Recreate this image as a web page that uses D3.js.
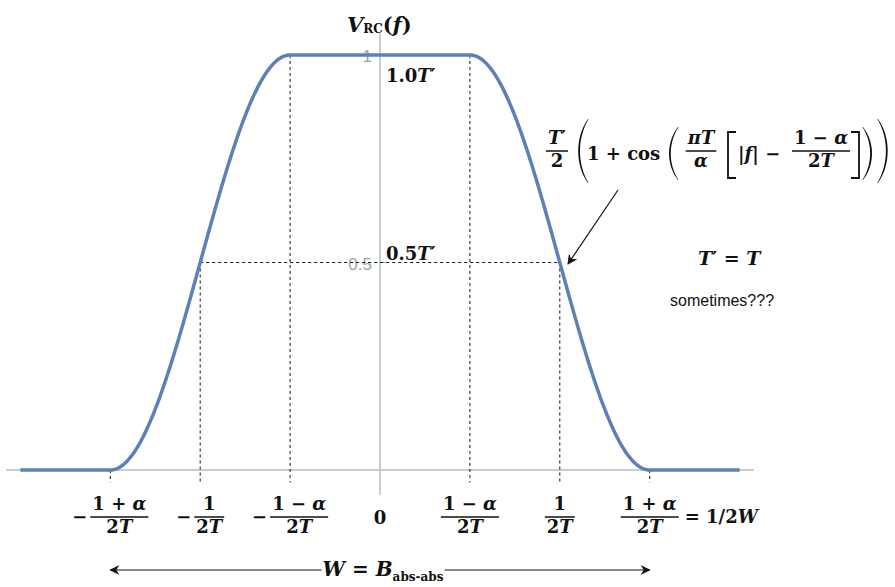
<!DOCTYPE html>
<html>
<head>
<meta charset="utf-8">
<script src="https://cdn.jsdelivr.net/npm/d3@7"></script>
<style>
  body { margin: 0; background: #fff; }
  .m { font-family: "DejaVu Serif", "Liberation Serif", serif; font-weight: bold; fill: #111; white-space: pre; }
</style>
</head>
<body>
<script>
// raised cosine parameters (1/(2T) = 1 unit)
const alpha = 0.5, T = 0.5;
const curveSpan = [-2, 2];
const yTicks = [1, 0.5];
const yTickLabels = ["1", "0.5"];
const levelLabels = ["1.0T′", "0.5T′"];
const xTickVals = [-1.5, -1, -0.5, 0, 0.5, 1, 1.5];
const xTickSign = ["−", "−", "−", "", "", "", ""];
const xTickNum = ["1 + α", "1", "1 − α", "0", "1 − α", "1", "1 + α"];
const xTickDen = ["2T", "2T", "2T", "", "2T", "2T", "2T"];
const guideX = [-1.5, -1, -0.5, 0.5, 1, 1.5];

const W = 895, H = 587;
const svg = d3.select("body").append("svg").attr("width", W).attr("height", H);

const x = d3.scaleLinear().domain([-2.08, 2.08]).range([6, 754]);
const y = d3.scaleLinear().domain([0, 1]).range([470, 55]);

function Vrc(f) {
  const a = Math.abs(f), lo = (1 - alpha) / (2 * T), hi = (1 + alpha) / (2 * T);
  if (a <= lo) return 1;
  if (a > hi) return 0;
  return 0.5 * (1 + Math.cos(Math.PI * T / alpha * (a - lo)));
}

const ital = new Set("TfαπWVB".split(""));
function mtext(g, px, py, str, size, anchor) {
  const t = g.append("text").attr("class", "m").attr("x", px).attr("y", py)
    .attr("font-size", size).attr("text-anchor", anchor || "start");
  const runs = [];
  for (const ch of str) {
    const it = ital.has(ch);
    if (runs.length && runs[runs.length - 1].it === it) runs[runs.length - 1].s += ch;
    else runs.push({ s: ch, it: it });
  }
  runs.forEach(r => t.append("tspan").attr("font-style", r.it ? "italic" : "normal").text(r.s));
  return t;
}
function frac(g, cx, barY, num, den, size) {
  const n = mtext(g, cx, barY - 7, num, size, "middle");
  const d = mtext(g, cx, barY + size * 0.9, den, size, "middle");
  const w = Math.max(n.node().getComputedTextLength(), d.node().getComputedTextLength()) + 4;
  g.append("line").attr("x1", cx - w / 2).attr("x2", cx + w / 2)
    .attr("y1", barY).attr("y2", barY).attr("stroke", "#111").attr("stroke-width", 1.5);
  return w;
}
function paren(g, x0, x1, y0, y1, right) {
  const h = y1 - y0, t = 2.2;
  const a = right ? x0 : x1, b = right ? x1 : x0, s = right ? -1 : 1;
  g.append("path").attr("fill", "#111")
    .attr("d", `M${a},${y0} C${b},${y0 + h * 0.28} ${b},${y1 - h * 0.28} ${a},${y1}
      L${a + s * 0.6},${y1} C${b + s * t},${y1 - h * 0.3} ${b + s * t},${y0 + h * 0.3} ${a + s * 0.6},${y0} Z`);
}
function bracket(g, x0, x1, y0, y1, right) {
  const a = right ? x0 : x1, b = right ? x1 : x0;
  g.append("path").attr("fill", "none").attr("stroke", "#111").attr("stroke-width", 1.8)
    .attr("d", `M${a},${y0} H${b} V${y1} H${a}`);
}

// axes
svg.append("line").attr("x1", x(-2.08)).attr("x2", x(2.08)).attr("y1", y(0)).attr("y2", y(0))
  .attr("stroke", "#b4bebe").attr("stroke-width", 1.5);
svg.append("line").attr("x1", x(0)).attr("x2", x(0)).attr("y1", y(1.053)).attr("y2", y(-0.06))
  .attr("stroke", "#b4bebe").attr("stroke-width", 1.5);
yTicks.forEach((v, i) => {
  svg.append("line").attr("x1", x(0)).attr("x2", x(0) + 8).attr("y1", y(v)).attr("y2", y(v))
    .attr("stroke", "#b4bebe").attr("stroke-width", 1.2);
  svg.append("text").attr("x", x(0) - 8).attr("y", y(v) + 7).attr("text-anchor", "end")
    .attr("font-family", "Liberation Sans, sans-serif").attr("font-size", 17).attr("fill", "#97a3a3")
    .text(yTickLabels[i]);
});

// guides
const dash = { stroke: "#111", "stroke-width": 1, "stroke-dasharray": "3,3" };
guideX.forEach(f => {
  const l = svg.append("line").attr("x1", x(f)).attr("x2", x(f)).attr("y1", y(Vrc(f))).attr("y2", y(-0.03));
  Object.entries(dash).forEach(([k, v]) => l.attr(k, v));
});
const hl = svg.append("line").attr("x1", x(-1)).attr("x2", x(1)).attr("y1", y(0.5)).attr("y2", y(0.5));
Object.entries(dash).forEach(([k, v]) => hl.attr(k, v));

// curve
const pts = d3.range(curveSpan[0], curveSpan[1] + 1e-9, 0.01).map(f => [f, Vrc(f)]);
svg.append("path").datum(pts)
  .attr("d", d3.line().x(d => x(d[0])).y(d => y(d[1])))
  .attr("fill", "none").attr("stroke", "#5d80b6").attr("stroke-width", 3.5);

// level labels
mtext(svg, 386, 82, levelLabels[0], 18);
mtext(svg, 386, 260, levelLabels[1], 18);

// y label V_RC(f)
const yl = svg.append("text").attr("class", "m").attr("x", 347).attr("y", 32).attr("font-size", 21);
yl.append("tspan").attr("font-style", "italic").text("V");
yl.append("tspan").attr("font-size", 12).attr("dy", 1).text("RC");
yl.append("tspan").attr("dy", -1).text("(");
yl.append("tspan").attr("font-style", "italic").text("f");
yl.append("tspan").text(")");

// x tick labels
const barY = 517;
xTickVals.forEach((v, i) => {
  const cx = x(v);
  if (xTickDen[i] === "") { mtext(svg, cx, 524, xTickNum[i], 18, "middle"); return; }
  const g = svg.append("g");
  const w = frac(g, 0, barY, xTickNum[i], xTickDen[i], 18);
  let off = 0;
  if (xTickSign[i]) {
    const m = mtext(g, 0, barY + 6, xTickSign[i], 18, "start");
    const mw = m.node().getComputedTextLength();
    const total = mw + 3 + w;
    m.attr("x", -w / 2 - 3 - mw);
    off = -total / 2 + mw + 3 + w / 2;
  }
  g.attr("transform", `translate(${cx + off},0)`);
  if (i === xTickVals.length - 1) mtext(g, w / 2 + 6, barY + 6, "= 1/2W", 18, "start");
});

// W = B_abs-abs arrow
const defs = svg.append("defs");
defs.append("marker").attr("id", "ah").attr("viewBox", "0 0 10 10").attr("refX", 9).attr("refY", 5)
  .attr("markerWidth", 10).attr("markerHeight", 10).attr("markerUnits", "userSpaceOnUse")
  .attr("orient", "auto-start-reverse")
  .append("path").attr("d", "M0,0 L10,5 L0,10 L3,5 Z").attr("fill", "#111");
const wl = svg.append("text").attr("class", "m").attr("x", 383).attr("y", 576)
  .attr("font-size", 20).attr("text-anchor", "middle");
wl.append("tspan").attr("font-style", "italic").text("W");
wl.append("tspan").text(" = ");
wl.append("tspan").attr("font-style", "italic").text("B");
wl.append("tspan").attr("font-size", 12).attr("dy", 5).text("abs-abs");
const bb = wl.node().getBBox();
svg.append("line").attr("x1", bb.x - 1).attr("x2", x(-1.5)).attr("y1", 570).attr("y2", 570)
  .attr("stroke", "#111").attr("stroke-width", 1.2).attr("marker-end", "url(#ah)");
svg.append("line").attr("x1", bb.x + bb.width + 1).attr("x2", x(1.5)).attr("y1", 570).attr("y2", 570)
  .attr("stroke", "#111").attr("stroke-width", 1.2).attr("marker-end", "url(#ah)");

// formula
const fg = svg.append("g");
frac(fg, 557, 151, "T′", "2", 18);
paren(fg, 575, 588, 119, 183, false);
mtext(fg, 587, 160, "1 + cos", 18);
paren(fg, 666, 678, 127, 180, false);
frac(fg, 701, 151, "πT", "α", 18);
bracket(fg, 728, 736, 132, 178, false);
mtext(fg, 738, 160, "|f| −", 18);
frac(fg, 821, 151, "1 − α", "2T", 18);
bracket(fg, 851, 859, 132, 178, true);
paren(fg, 863, 875, 127, 180, true);
paren(fg, 878, 891, 119, 183, true);
svg.append("line").attr("x1", 618).attr("y1", 190).attr("x2", 568).attr("y2", 264)
  .attr("stroke", "#111").attr("stroke-width", 1.2).attr("marker-end", "url(#ah)");

// side notes
mtext(svg, 698, 265, "T′ = T", 19);
svg.append("text").attr("x", 670).attr("y", 306).attr("font-family", "Liberation Sans, Arial, sans-serif")
  .attr("font-size", 16).attr("fill", "#111").text("sometimes???");
</script>
</body>
</html>
